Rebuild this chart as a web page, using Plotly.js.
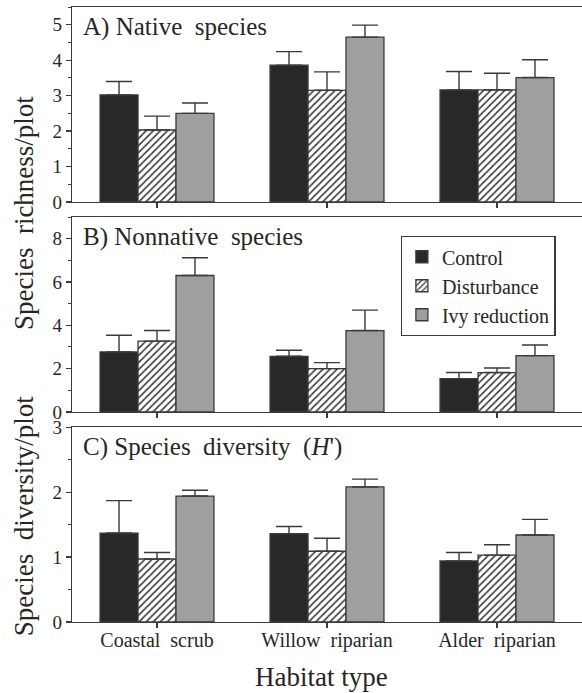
<!DOCTYPE html>
<html>
<head>
<meta charset="utf-8">
<script src="https://cdn.plot.ly/plotly-3.0.1.min.js"></script>
<style>
html,body{margin:0;padding:0;background:#fff;overflow:hidden}
</style>
</head>
<body>
<div id="chart" style="width:582px;height:693px"></div>
<script>
// ---- data ----
const habitats = ['Coastal\u00A0 scrub', 'Willow\u00A0 riparian', 'Alder\u00A0 riparian'];
const treatments = ['Control', 'Disturbance', 'Ivy reduction'];

// A) Native species richness/plot
const nativeControl = [3.02, 3.86, 3.16];
const nativeControlSE = [0.38, 0.38, 0.52];
const nativeDisturb = [2.03, 3.15, 3.16];
const nativeDisturbSE = [0.39, 0.52, 0.47];
const nativeIvy = [2.50, 4.65, 3.51];
const nativeIvySE = [0.29, 0.34, 0.50];

// B) Nonnative species richness/plot
const nonnativeControl = [2.77, 2.57, 1.54];
const nonnativeControlSE = [0.77, 0.28, 0.28];
const nonnativeDisturb = [3.27, 2.00, 1.82];
const nonnativeDisturbSE = [0.49, 0.28, 0.21];
const nonnativeIvy = [6.30, 3.76, 2.60];
const nonnativeIvySE = [0.82, 0.94, 0.49];

// C) Species diversity (H')
const diversityControl = [1.37, 1.36, 0.94];
const diversityControlSE = [0.50, 0.11, 0.13];
const diversityDisturb = [0.97, 1.09, 1.03];
const diversityDisturbSE = [0.10, 0.20, 0.16];
const diversityIvy = [1.94, 2.08, 1.34];
const diversityIvySE = [0.09, 0.12, 0.24];

const panelTitles = ['A) Native\u00A0 species', 'B) Nonnative\u00A0 species', 'C) Species\u00A0 diversity\u00A0 (<i>H</i>\')'];

// ---- styling ----
const FONT = '"Liberation Serif", "Times New Roman", serif';
const INK = '#262626';
const LINE = '#3a3a3a';
const styles = [
  {color: '#282828', pattern: {shape: ''}},
  {color: '#ffffff', pattern: {shape: '/', fgcolor: '#333333', bgcolor: '#ffffff', size: 5, solidity: 0.3}},
  {color: '#9f9f9f', pattern: {shape: ''}}
];
const zeros = [0, 0, 0];

const panels = [
  {vals: [nativeControl, nativeDisturb, nativeIvy], errs: [nativeControlSE, nativeDisturbSE, nativeIvySE], xa: 'x', ya: 'y'},
  {vals: [nonnativeControl, nonnativeDisturb, nonnativeIvy], errs: [nonnativeControlSE, nonnativeDisturbSE, nonnativeIvySE], xa: 'x2', ya: 'y2'},
  {vals: [diversityControl, diversityDisturb, diversityIvy], errs: [diversityControlSE, diversityDisturbSE, diversityIvySE], xa: 'x3', ya: 'y3'}
];

const traces = [];
panels.forEach((p, pi) => {
  p.vals.forEach((v, ti) => {
    traces.push({
      type: 'bar',
      x: habitats,
      y: v,
      name: treatments[ti],
      showlegend: pi === 0,
      xaxis: p.xa,
      yaxis: p.ya,
      marker: {
        color: styles[ti].color,
        pattern: styles[ti].pattern,
        line: {color: LINE, width: 1.3}
      },
      error_y: {
        type: 'data', symmetric: false,
        array: p.errs[ti], arrayminus: zeros,
        color: LINE, thickness: 1.4, width: 13
      },
      hoverinfo: 'skip'
    });
  });
});

function xAxis(anchor, labels) {
  return {
    anchor: anchor, domain: [0, 1], type: 'category', range: [-0.5, 2.5],
    showline: true, linecolor: LINE, linewidth: 1.2, mirror: true,
    ticks: 'outside', ticklen: 5, tickcolor: LINE, tickwidth: 1.2,
    ticklabelstandoff: -5,
    showticklabels: labels, showgrid: false, zeroline: false,
    tickfont: {family: FONT, size: 20, color: INK}, fixedrange: true
  };
}
function yAxis(anchor, domain, range, dtick, minor) {
  return {
    anchor: anchor, domain: domain, range: range, dtick: dtick, tick0: 0,
    showline: true, linecolor: LINE, linewidth: 1.2,
    ticks: 'outside', ticklen: 5, tickcolor: LINE, tickwidth: 1.2,
    minor: {dtick: minor, ticks: 'outside', ticklen: 3, tickcolor: LINE, tickwidth: 1},
    showgrid: false, zeroline: false,
    tickfont: {family: FONT, size: 19, color: INK}, fixedrange: true
  };
}

const annotations = panelTitles.map((t, i) => ({
  text: t, xref: (i === 0 ? 'x' : 'x' + (i + 1)) + ' domain', yref: (i === 0 ? 'y' : 'y' + (i + 1)) + ' domain',
  x: 0.018, y: 1, xanchor: 'left', yanchor: 'top', yshift: -4, showarrow: false,
  font: {family: FONT, size: 25, color: INK}
}));
annotations.push({
  text: 'Species\u00A0 richness/plot', xref: 'paper', yref: 'paper', x: -0.094, y: 0.665,
  xanchor: 'center', yanchor: 'middle', textangle: -90, showarrow: false,
  font: {family: FONT, size: 27, color: INK}
});
annotations.push({
  text: 'Species\u00A0 diversity/plot', xref: 'paper', yref: 'paper', x: -0.094, y: 0.172,
  xanchor: 'center', yanchor: 'middle', textangle: -90, showarrow: false,
  font: {family: FONT, size: 27, color: INK}
});
annotations.push({
  text: 'Habitat type', xref: 'paper', yref: 'paper', x: 0.49, y: 0,
  xanchor: 'center', yanchor: 'top', yshift: -38, showarrow: false,
  font: {family: FONT, size: 27, color: INK}
});

const layout = {
  width: 582, height: 693,
  margin: {l: 72, r: 0, t: 7, b: 71},
  paper_bgcolor: '#ffffff', plot_bgcolor: '#ffffff',
  barmode: 'group', bargap: 0.33, bargroupgap: 0,
  xaxis: xAxis('y', false),
  xaxis2: xAxis('y2', false),
  xaxis3: xAxis('y3', true),
  yaxis: yAxis('x', [0.683, 1], [0, 5.5], 1, 0.5),
  yaxis2: yAxis('x2', [0.3415, 0.6585], [0, 9], 2, 1),
  yaxis3: yAxis('x3', [0, 0.3167], [0, 3], 1, 0.5),
  showlegend: true,
  legend: {
    x: 0.6445, y: 0.6276, xanchor: 'left', yanchor: 'top',
    bgcolor: '#ffffff', bordercolor: LINE, borderwidth: 1.2,
    tracegroupgap: 0,
    font: {family: FONT, size: 20, color: INK}, traceorder: 'normal'
  },
  annotations: annotations,
  font: {family: FONT, color: INK}
};

Plotly.newPlot('chart', traces, layout, {displayModeBar: false, staticPlot: true});
</script>
</body>
</html>
